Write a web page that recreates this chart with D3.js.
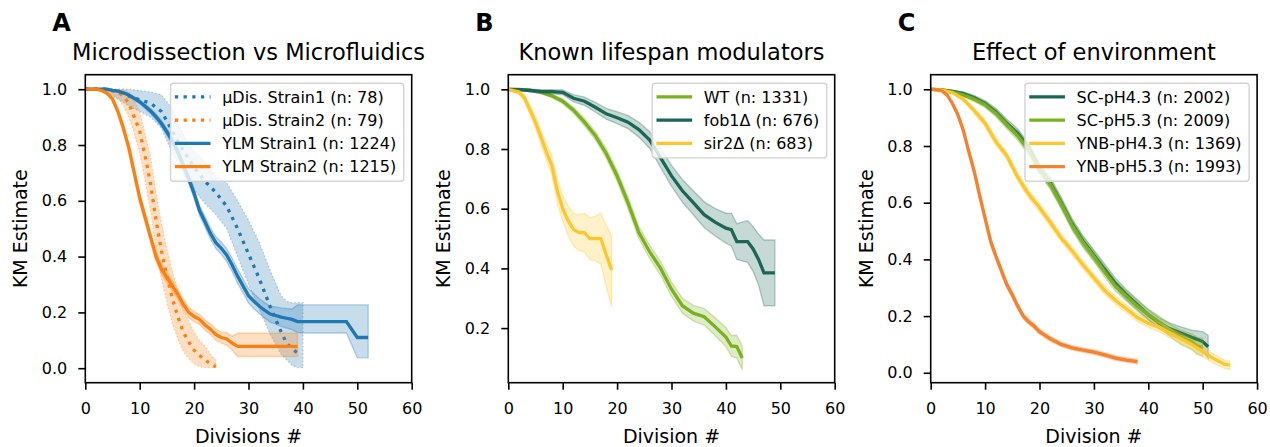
<!DOCTYPE html>
<html>
<head>
<meta charset="utf-8">
<script src="https://cdn.jsdelivr.net/npm/d3@7"></script>
<style>
  body { margin: 0; background: #fff; }
  text { font-family: "DejaVu Sans", sans-serif; fill: #000; }
</style>
</head>
<body>
<script>
const W = 1270, H = 447;
const frameTop = 74.7, frameBottom = 382.7, frameW = 326.4;

const xTicks = [0, 10, 20, 30, 40, 50, 60];

// ---- panel A : microdissection vs microfluidics
const disS1X  = [0,2,4,6,8,10,12,14,16,18,20,22,24,26,28,30,32,34,36,37,38,39,40];
const disS1Y  = [1,1,1,0.99,0.975,0.962,0.95,0.92,0.85,0.78,0.72,0.67,0.63,0.58,0.5,0.41,0.32,0.22,0.13,0.09,0.07,0.055];
const disS1Lo = [1,1,0.985,0.965,0.94,0.92,0.9,0.86,0.77,0.7,0.64,0.59,0.55,0.5,0.4,0.3,0.21,0.12,0.05,0.03,0.01,0.002,0.002];
const disS1Hi = [1,1,1,1,1,0.995,0.99,0.98,0.93,0.84,0.78,0.74,0.69,0.665,0.6,0.53,0.45,0.35,0.26,0.24,0.235,0.235,0.235];

const disS2X  = [0,2,4,6,7,8,9,10,11,12,13,14,15,16,17,18,19,20,21,22,23,24];
const disS2Y  = [1,1,1,0.99,0.975,0.95,0.9,0.85,0.76,0.66,0.53,0.42,0.33,0.25,0.185,0.13,0.095,0.065,0.045,0.03,0.015,0.005];
const disS2Lo = [1,1,0.99,0.965,0.94,0.9,0.84,0.77,0.67,0.56,0.43,0.32,0.235,0.16,0.105,0.06,0.035,0.015,0.005,0.002,0.002,0.002];
const disS2Hi = [1,1,1,1,1,0.99,0.96,0.92,0.84,0.76,0.63,0.52,0.43,0.35,0.28,0.21,0.17,0.13,0.1,0.08,0.05,0.03];

const ylmS1X  = [0,2,4,5,6,7,8,9,10,11,12,13,14,15,16,17,18,19,20,21,22,23,24,25,26,27,28,29,30,31,32,33,34,35,36,37,38,39,40,48,50,52];
const ylmS1Y  = [1,1,1,0.996,0.993,0.987,0.979,0.967,0.955,0.939,0.922,0.901,0.877,0.847,0.815,0.776,0.728,0.68,0.626,0.565,0.525,0.483,0.45,0.43,0.405,0.37,0.33,0.295,0.26,0.24,0.222,0.207,0.194,0.189,0.183,0.179,0.175,0.167,0.167,0.167,0.11,0.11];
const ylmS1Lo = [1,1,0.998,0.993,0.99,0.983,0.974,0.961,0.948,0.931,0.913,0.891,0.866,0.835,0.802,0.762,0.713,0.664,0.609,0.547,0.506,0.463,0.429,0.408,0.382,0.346,0.305,0.27,0.234,0.213,0.195,0.179,0.165,0.158,0.15,0.144,0.138,0.128,0.126,0.126,0.037,0.037];
const ylmS1Hi = [1,1,1,0.998,0.996,0.991,0.984,0.973,0.962,0.947,0.931,0.911,0.888,0.859,0.828,0.79,0.743,0.696,0.643,0.583,0.544,0.503,0.471,0.452,0.428,0.394,0.355,0.32,0.286,0.267,0.249,0.235,0.223,0.22,0.216,0.214,0.212,0.227,0.227,0.227,0.227,0.227];

const ylmS2X  = [0,2,3,4,5,6,7,8,9,10,11,12,13,14,15,16,17,18,19,20,21,22,23,24,25,26,27,28,39];
const ylmS2Y  = [1,1,0.995,0.985,0.965,0.92,0.86,0.79,0.7,0.61,0.54,0.47,0.4,0.355,0.325,0.295,0.265,0.23,0.2,0.185,0.175,0.155,0.14,0.12,0.11,0.105,0.09,0.078,0.078];
const ylmS2Lo = [1,1,0.993,0.981,0.959,0.91,0.848,0.776,0.685,0.594,0.523,0.453,0.382,0.337,0.307,0.277,0.247,0.212,0.182,0.167,0.157,0.137,0.121,0.1,0.09,0.083,0.065,0.042,0.042];
const ylmS2Hi = [1,1,0.997,0.989,0.971,0.93,0.872,0.804,0.715,0.626,0.557,0.487,0.418,0.373,0.343,0.313,0.283,0.248,0.218,0.203,0.193,0.173,0.159,0.14,0.13,0.127,0.115,0.125,0.125];

// ---- panel B : known lifespan modulators
const wtX  = [0,2,4,6,8,10,12,14,16,18,20,22,24,26,28,30,32,34,36,38,40,41,42,43];
const wtY  = [1,1,0.997,0.99,0.978,0.96,0.93,0.89,0.845,0.785,0.71,0.62,0.52,0.455,0.4,0.33,0.275,0.25,0.238,0.205,0.17,0.14,0.138,0.1];
const wtLo = [1,1,0.995,0.986,0.972,0.952,0.92,0.878,0.831,0.769,0.692,0.6,0.5,0.433,0.377,0.306,0.25,0.224,0.21,0.175,0.138,0.105,0.1,0.06];
const wtHi = [1,1,0.999,0.994,0.984,0.968,0.94,0.902,0.859,0.801,0.728,0.64,0.54,0.477,0.423,0.354,0.3,0.276,0.266,0.235,0.202,0.175,0.176,0.14];

const fobX  = [0,2,4,6,8,10,12,14,16,18,20,22,24,26,28,30,32,34,36,38,40,41,42,44,45,46,47,49];
const fobY  = [1,0.999,0.996,0.993,0.992,0.99,0.97,0.96,0.94,0.918,0.905,0.89,0.865,0.83,0.77,0.71,0.66,0.62,0.58,0.555,0.535,0.53,0.49,0.49,0.465,0.43,0.385,0.385];
const fobLo = [1,0.997,0.992,0.987,0.985,0.982,0.958,0.946,0.924,0.9,0.885,0.868,0.84,0.802,0.738,0.675,0.622,0.58,0.537,0.509,0.485,0.475,0.43,0.42,0.39,0.345,0.275,0.275];
const fobHi = [1,1,1,0.999,0.999,0.998,0.982,0.974,0.956,0.936,0.925,0.912,0.89,0.858,0.802,0.745,0.698,0.66,0.623,0.601,0.585,0.585,0.55,0.56,0.54,0.515,0.495,0.495];

const sirX  = [0,1,2,3,4,5,6,7,8,9,10,11,12,13,14,15,16,17,18,19];
const sirY  = [1,0.995,0.99,0.97,0.93,0.89,0.84,0.79,0.745,0.66,0.6,0.56,0.53,0.52,0.52,0.5,0.5,0.5,0.445,0.395];
const sirLo = [1,0.99,0.982,0.958,0.914,0.87,0.816,0.762,0.712,0.622,0.556,0.51,0.475,0.46,0.455,0.43,0.425,0.415,0.34,0.27];
const sirHi = [1,1,0.996,0.982,0.946,0.91,0.864,0.818,0.778,0.698,0.644,0.61,0.585,0.58,0.585,0.57,0.575,0.585,0.545,0.51];

// ---- panel C : effect of environment
const sc43X  = [0,2,4,6,8,10,12,14,16,18,20,22,24,26,28,30,32,34,36,38,40,42,44,46,48,49,50,51];
const sc43Y  = [1,0.998,0.993,0.985,0.97,0.95,0.92,0.88,0.845,0.795,0.72,0.67,0.6,0.525,0.465,0.415,0.365,0.315,0.275,0.24,0.205,0.175,0.155,0.14,0.125,0.118,0.11,0.092];
const sc43Lo = [1,0.996,0.989,0.979,0.962,0.94,0.908,0.866,0.83,0.779,0.703,0.652,0.582,0.507,0.447,0.397,0.347,0.297,0.257,0.222,0.187,0.156,0.135,0.118,0.1,0.088,0.075,0.052];
const sc43Hi = [1,1,0.997,0.991,0.978,0.96,0.932,0.894,0.86,0.811,0.737,0.688,0.618,0.543,0.483,0.433,0.383,0.333,0.293,0.258,0.223,0.194,0.175,0.162,0.15,0.148,0.145,0.132];

const sc53X  = [0,2,4,6,8,10,12,14,16,18,20,22,24,26,28,30,32,34,36,38,40,42,44,46,48,49,50];
const sc53Y  = [1,0.998,0.99,0.98,0.965,0.945,0.915,0.875,0.835,0.785,0.72,0.665,0.595,0.52,0.46,0.41,0.355,0.305,0.27,0.235,0.205,0.18,0.15,0.125,0.11,0.095,0.09];
const sc53Lo = [1,0.996,0.986,0.974,0.957,0.935,0.903,0.861,0.82,0.769,0.703,0.647,0.577,0.502,0.442,0.392,0.337,0.287,0.252,0.217,0.186,0.16,0.128,0.1,0.082,0.065,0.058];
const sc53Hi = [1,1,0.994,0.986,0.973,0.955,0.927,0.889,0.85,0.801,0.737,0.683,0.613,0.538,0.478,0.428,0.373,0.323,0.288,0.253,0.224,0.2,0.172,0.15,0.138,0.125,0.122];

const ynb43X  = [0,2,4,6,8,10,12,14,16,18,20,22,24,26,28,30,32,34,36,38,40,42,44,46,48,50,52,54,55];
const ynb43Y  = [1,0.997,0.988,0.965,0.925,0.88,0.815,0.765,0.69,0.63,0.583,0.53,0.475,0.43,0.38,0.335,0.29,0.255,0.225,0.195,0.175,0.16,0.14,0.12,0.1,0.075,0.05,0.03,0.027];
const ynb43Lo = [1,0.995,0.984,0.958,0.915,0.868,0.802,0.752,0.676,0.616,0.569,0.516,0.461,0.416,0.366,0.321,0.276,0.241,0.211,0.181,0.16,0.144,0.123,0.102,0.082,0.057,0.033,0.015,0.012];
const ynb43Hi = [1,0.999,0.992,0.972,0.935,0.892,0.828,0.778,0.704,0.644,0.597,0.544,0.489,0.444,0.394,0.349,0.304,0.269,0.239,0.209,0.19,0.176,0.157,0.138,0.118,0.093,0.067,0.045,0.042];

const ynb53X  = [0,1,2,3,4,5,6,7,8,9,10,11,12,13,14,15,16,17,18,19,20,22,24,26,28,30,32,34,36,38];
const ynb53Y  = [1,1,0.995,0.98,0.95,0.91,0.855,0.78,0.71,0.625,0.545,0.465,0.41,0.36,0.31,0.275,0.235,0.2,0.18,0.165,0.145,0.12,0.1,0.088,0.08,0.073,0.063,0.052,0.045,0.039];
const ynb53Lo = [1,1,0.993,0.976,0.944,0.902,0.845,0.769,0.698,0.612,0.532,0.452,0.397,0.347,0.298,0.263,0.224,0.19,0.17,0.155,0.136,0.111,0.092,0.08,0.072,0.065,0.055,0.044,0.037,0.031];
const ynb53Hi = [1,1,0.997,0.984,0.956,0.918,0.865,0.791,0.722,0.638,0.558,0.478,0.423,0.373,0.322,0.287,0.246,0.21,0.19,0.175,0.154,0.129,0.108,0.096,0.088,0.081,0.071,0.06,0.053,0.047];

const blue = '#1f77b4', orange = '#ff7f0e';
const green = '#7bb01f', teal = '#1c6656', yellow = '#ffc62b', ynbOrange = '#f4822f';

const panels = [
  { letter: 'A', title: 'Microdissection vs Microfluidics', xlabel: 'Divisions #',
    left: 85.3, ydom: [-0.052, 1.052], yTicks: [0, 0.2, 0.4, 0.6, 0.8, 1.0],
    series: [
      { name: 'µDis. Strain1 (n: 78)', color: blue, dotted: true, x: disS1X, y: disS1Y, lo: disS1Lo, hi: disS1Hi },
      { name: 'µDis. Strain2 (n: 79)', color: orange, dotted: true, x: disS2X, y: disS2Y, lo: disS2Lo, hi: disS2Hi },
      { name: 'YLM Strain1 (n: 1224)', color: blue, x: ylmS1X, y: ylmS1Y, lo: ylmS1Lo, hi: ylmS1Hi },
      { name: 'YLM Strain2 (n: 1215)', color: orange, x: ylmS2X, y: ylmS2Y, lo: ylmS2Lo, hi: ylmS2Hi }
    ] },
  { letter: 'B', title: 'Known lifespan modulators', xlabel: 'Division #',
    left: 508.3, ydom: [0.017, 1.049], yTicks: [0.2, 0.4, 0.6, 0.8, 1.0],
    series: [
      { name: 'WT (n: 1331)', color: green, x: wtX, y: wtY, lo: wtLo, hi: wtHi },
      { name: 'fob1Δ (n: 676)', color: teal, x: fobX, y: fobY, lo: fobLo, hi: fobHi },
      { name: 'sir2Δ (n: 683)', color: yellow, x: sirX, y: sirY, lo: sirLo, hi: sirHi }
    ] },
  { letter: 'C', title: 'Effect of environment', xlabel: 'Division #',
    left: 930.7, ydom: [-0.035, 1.0515], yTicks: [0, 0.2, 0.4, 0.6, 0.8, 1.0],
    series: [
      { name: 'SC-pH4.3 (n: 2002)', color: teal, x: sc43X, y: sc43Y, lo: sc43Lo, hi: sc43Hi },
      { name: 'SC-pH5.3 (n: 2009)', color: green, x: sc53X, y: sc53Y, lo: sc53Lo, hi: sc53Hi },
      { name: 'YNB-pH4.3 (n: 1369)', color: yellow, x: ynb43X, y: ynb43Y, lo: ynb43Lo, hi: ynb43Hi },
      { name: 'YNB-pH5.3 (n: 1993)', color: ynbOrange, x: ynb53X, y: ynb53Y, lo: ynb53Lo, hi: ynb53Hi }
    ] }
];

const svg = d3.select('body').append('svg')
  .attr('width', W).attr('height', H);

const lineW = 3.3, dots = '3.3,5.4';

panels.forEach(p => {
  const x = d3.scaleLinear().domain([0, 60]).range([p.left, p.left + frameW]);
  const y = d3.scaleLinear().domain(p.ydom).range([frameBottom, frameTop]);
  const g = svg.append('g');

  // curves + confidence bands
  p.series.forEach(s => {
    const line = d3.line().x((d, i) => x(s.x[i])).y(d => y(d));
    g.append('path').datum(s.y).attr('d', line)
      .attr('fill', 'none').attr('stroke', s.color).attr('stroke-width', lineW)
      .attr('stroke-dasharray', s.dotted ? dots : null);
    const band = d3.area().x((d, i) => x(s.x[i])).y0(d => y(d)).y1((d, i) => y(s.hi[i]));
    g.append('path').datum(s.lo).attr('d', band)
      .attr('fill', s.color).attr('fill-opacity', 0.25)
      .attr('stroke', s.color).attr('stroke-opacity', 0.3).attr('stroke-width', 1.4)
      .attr('stroke-dasharray', s.dotted ? '1.4,2.3' : null);
  });

  // axes
  const ax = g.append('g').attr('transform', `translate(0,${frameBottom})`)
    .call(d3.axisBottom(x).tickValues(xTicks).tickSize(7).tickPadding(13).tickFormat(d3.format('d')));
  const ay = g.append('g').attr('transform', `translate(${p.left},0)`)
    .call(d3.axisLeft(y).tickValues(p.yTicks).tickSize(7).tickPadding(11).tickFormat(d3.format('.1f')));
  [ax, ay].forEach(a => {
    a.select('.domain').remove();
    a.selectAll('.tick line').attr('stroke', '#000').attr('stroke-width', 1.6);
    a.selectAll('.tick text').style('font-size', '16px').style('font-family', 'DejaVu Sans').attr('fill', '#000');
  });

  g.append('rect').attr('x', p.left).attr('y', frameTop)
    .attr('width', frameW).attr('height', frameBottom - frameTop)
    .attr('fill', 'none').attr('stroke', '#000').attr('stroke-width', 1.6);

  // texts
  const cx = p.left + frameW / 2;
  g.append('text').attr('x', cx).attr('y', 60).attr('text-anchor', 'middle')
    .style('font-size', '22.5px').text(p.title);
  g.append('text').attr('x', p.left - 33).attr('y', 31)
    .style('font-size', '24px').style('font-weight', 'bold').text(p.letter);
  g.append('text').attr('x', cx).attr('y', 443).attr('text-anchor', 'middle')
    .style('font-size', '19px').text(p.xlabel);
  g.append('text')
    .attr('transform', `translate(${p.left - 58},${(frameTop + frameBottom) / 2}) rotate(-90)`)
    .attr('text-anchor', 'middle').style('font-size', '19px').text('KM Estimate');

  // legend
  const lg = g.append('g');
  const box = lg.append('rect');
  const rowH = 23.3, firstRow = frameTop + 8.6 + 13.5;
  const labels = p.series.map((s, i) => lg.append('text')
    .attr('y', firstRow + i * rowH).attr('dy', '0.36em')
    .style('font-size', '16px').text(s.name));
  const maxW = d3.max(labels, t => t.node().getComputedTextLength());
  const boxRight = p.left + frameW - 8;
  const boxW = 51.6 + maxW + 7.5;
  const boxLeft = boxRight - boxW;
  const boxTop = frameTop + 8.6;
  const boxH = 13.5 + (p.series.length - 1) * rowH + 14.5;
  box.attr('x', boxLeft).attr('y', boxTop).attr('width', boxW).attr('height', boxH)
    .attr('rx', 3).attr('fill', '#fff').attr('fill-opacity', 0.8)
    .attr('stroke', '#d4d4d4').attr('stroke-width', 1.4);
  labels.forEach(t => t.attr('x', boxLeft + 51.6));
  p.series.forEach((s, i) => {
    const yy = firstRow + i * rowH;
    lg.append('line').attr('x1', boxLeft + 4.3).attr('x2', boxLeft + 40)
      .attr('y1', yy).attr('y2', yy)
      .attr('stroke', s.color).attr('stroke-width', lineW)
      .attr('stroke-dasharray', s.dotted ? dots : null);
  });
});
</script>
</body>
</html>
